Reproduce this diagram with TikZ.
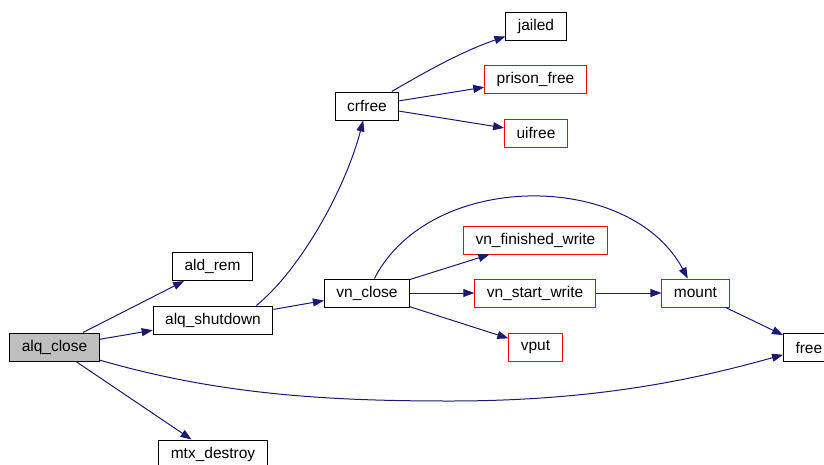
\documentclass[tikz,border=0pt]{standalone}
\usepackage{fontspec}
\setmainfont{Liberation Sans}
\usetikzlibrary{arrows.meta}

\definecolor{azulaceta}{HTML}{191970}
\definecolor{cinzaraiz}{HTML}{BFBFBF}

\begin{document}
\begin{tikzpicture}[
            x=1pt, y=-1pt,
            no/.style={shape=rectangle, draw=black, line width=1pt, fill=white,
                minimum height=28pt, inner xsep=12pt, inner ysep=2pt,
                font=\fontsize{15.5}{17}\selectfont},
            noexterno/.style={no, draw=red},
            noraiz/.style={no, fill=cinzaraiz},
            aresta/.style={draw=azulaceta, line width=1pt,
                -{Triangle[length=11pt, width=8pt]}},
        ]
        \useasboundingbox (0, 0) rectangle (824, 464);

        \node[noraiz] (alqclose) at (54.5, 347) {alq\_close};
        \node[no] (aldrem) at (212.5, 266.5) {ald\_rem};
        \node[no] (alqshutdown) at (213, 320) {alq\_shutdown};
        \node[no] (mtxdestroy) at (213, 454) {mtx\_destroy};
        \node[no] (crfree) at (367, 106) {crfree};
        \node[no] (vnclose) at (367, 293) {vn\_close};
        \node[no] (jailed) at (536, 26) {jailed};
        \node[noexterno] (prisonfree) at (535.5, 79) {prison\_free};
        \node[noexterno] (uifree) at (536, 133) {uifree};
        \node[noexterno] (vnfinished) at (535.5, 240) {vn\_finished\_write};
        \node[noexterno] (vnstart) at (535, 293) {vn\_start\_write};
        \node[noexterno] (vput) at (535.5, 347) {vput};
        \node[noexterno] (mount) at (695.5, 293) {mount};
        \node[no, anchor=west] (free) at (783, 347.5) {free};

        \draw[aresta] (alqclose) -- (aldrem);
        \draw[aresta] (alqclose) -- (alqshutdown);
        \draw[aresta] (alqclose) -- (mtxdestroy);
        \draw[aresta] (alqclose) .. controls (220, 395) and (330, 401) .. (450, 401)
            .. controls (600, 401) and (700, 378) .. (free);
        \draw[aresta] ([xshift=-17pt]alqshutdown.north east) .. controls (300, 270) and (345, 190) .. (crfree);
        \draw[aresta] (alqshutdown) -- (vnclose);
        \draw[aresta] (crfree) .. controls (420, 75) and (460, 52) .. (jailed);
        \draw[aresta] (crfree) -- (prisonfree);
        \draw[aresta] (crfree) -- (uifree);
        \draw[aresta] (vnclose) .. controls (430, 170) and (630, 170) .. (mount);
        \draw[aresta] (vnclose) -- (vnfinished);
        \draw[aresta] (vnclose) -- (vnstart);
        \draw[aresta] (vnclose) -- (vput);
        \draw[aresta] (vnstart) -- (mount);
        \draw[aresta] (mount) -- (free);

    \end{tikzpicture}
\end{document}
